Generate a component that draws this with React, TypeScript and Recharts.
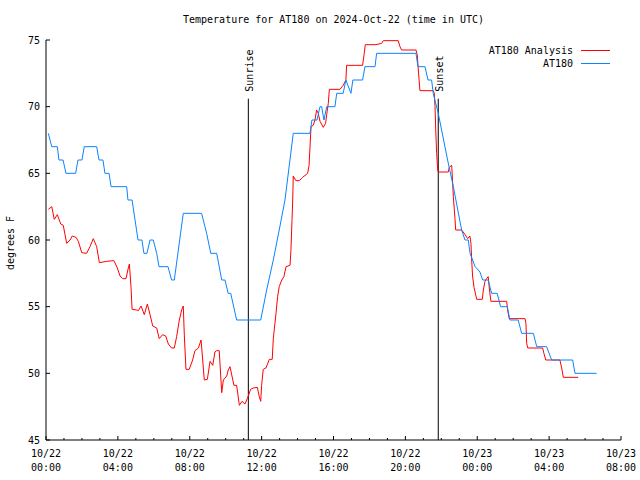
import React from 'react';
import {
    ComposedChart,
    Line,
    XAxis,
    YAxis,
    ReferenceLine,
} from "recharts";

const COLORS = {
  analysis: "#ff0000",
  station: "#0a84ff",
};

const FONT = '"DejaVu Sans Mono", monospace';

// hours since 10/22 00:00 UTC
const analysisHours = [
  0.13, 0.32, 0.46, 0.63, 0.82, 0.96, 1.15, 1.34, 1.46, 1.67, 1.80, 1.99, 2.26, 2.45, 2.63, 2.82, 2.97,
  3.38, 3.78, 3.97, 4.12, 4.27, 4.45, 4.58, 4.64, 4.73, 4.79, 5.05, 5.14, 5.29, 5.47, 5.64, 5.79, 5.94,
  6.16, 6.30, 6.49, 6.66, 6.81, 6.99, 7.14, 7.27, 7.42, 7.55, 7.64, 7.70, 7.79, 7.97, 8.16, 8.29, 8.48,
  8.63, 8.72, 8.81, 8.98, 9.13, 9.28, 9.40, 9.50, 9.64, 9.78, 9.87, 10.06, 10.14, 10.24, 10.46, 10.61,
  10.76, 10.91, 11.07, 11.20, 11.39, 11.54, 11.76, 11.87, 11.95, 12.00, 12.09, 12.24, 12.43, 12.59,
  12.65, 12.74, 12.80, 12.89, 12.98, 13.12, 13.24, 13.36, 13.58, 13.63, 13.69, 13.73, 13.76, 13.91,
  14.10, 14.28, 14.47, 14.56, 14.64, 14.69, 14.75, 14.87, 14.97, 15.06, 15.15, 15.25, 15.43, 15.56,
  15.62, 15.71, 15.77, 16.36, 16.54, 16.69, 16.73, 17.62, 17.70, 17.77, 18.36, 18.68, 18.77, 19.60,
  19.70, 19.79, 20.59, 20.66, 20.72, 20.81, 21.55, 21.61, 21.65, 21.69, 21.74, 21.80, 21.83, 22.39,
  22.44, 22.58, 22.67, 22.76, 22.80, 23.13, 23.22, 23.32, 23.47, 23.59, 23.65, 23.69, 23.74, 23.82,
  23.97, 24.28, 24.34, 24.43, 24.52, 24.61, 24.67, 24.76, 25.64, 25.69, 25.78, 26.66, 26.71, 26.75,
  26.81, 27.64, 27.71, 27.81, 28.60, 28.70, 28.79, 29.62,
];
const analysisTemps = [
  62.3, 62.5, 61.55, 61.9, 61.2, 61.1, 59.75, 60.0, 60.3, 60.2, 59.9, 59.05, 59.0, 59.5, 60.1, 59.5, 58.3,
  58.4, 58.45, 57.9, 57.3, 57.1, 57.1, 57.9, 58.2, 56.5, 54.8, 54.75, 54.7, 55.05, 54.4, 55.2, 54.4, 53.55,
  53.4, 52.6, 52.9, 52.8, 52.2, 51.9, 51.9, 52.75, 54.0, 54.75, 55.05, 52.8, 50.3, 50.3, 51.0, 51.7, 51.9,
  52.5, 51.0, 49.5, 49.55, 50.9, 50.6, 51.6, 51.7, 51.7, 48.55, 49.5, 49.8, 50.25, 50.5, 49.1, 49.1,
  47.6, 47.9, 47.7, 48.1, 48.8, 48.9, 48.95, 48.25, 47.9, 49.1, 50.3, 50.4, 51.05, 51.05,
  52.6, 53.75, 54.5, 55.75, 56.5, 57.0, 57.25, 58.0, 58.1, 59.2, 61.45, 63.0, 64.8, 64.45,
  64.45, 64.7, 64.9, 65.0, 65.6, 66.9, 68.5, 68.6, 69.0, 69.75, 69.5, 68.9, 68.45, 68.75,
  69.4, 70.25, 71.3, 71.3, 71.6, 72.0, 73.1, 73.1, 73.9, 74.65, 74.65, 74.75, 74.95, 74.95,
  74.5, 74.25, 74.25, 73.9, 72.75, 71.2, 71.2, 71.0, 70.0, 68.25, 66.5, 65.25, 65.1, 65.1,
  65.45, 65.6, 63.25, 61.6, 60.75, 60.75, 60.6, 60.4, 60.1, 60.3, 59.75, 58.5, 57.3, 56.45,
  55.55, 55.55, 56.25, 56.9, 57.1, 57.25, 56.4, 55.4, 55.4, 54.75, 54.1, 54.1, 53.75, 52.25,
  51.9, 51.9, 51.5, 51.0, 51.0, 50.4, 49.7, 49.7,
];

const stationHours = [
  0.13, 0.32, 0.63, 0.72, 0.95, 1.11, 1.65, 1.78, 2.00, 2.13, 2.82, 2.95, 3.17, 3.28, 3.51, 3.62, 4.49,
  4.56, 4.79, 5.12, 5.34, 5.45, 5.62, 5.79, 5.97, 6.16, 6.29, 6.79, 6.99, 7.14, 7.64, 8.66, 8.94, 9.17,
  9.50, 9.78, 9.96, 10.14, 10.28, 10.61, 11.95, 12.28, 12.65, 12.98, 13.30, 13.76, 14.69, 14.80, 15.08,
  15.25, 15.34, 15.47, 15.62, 16.08, 16.18, 16.54, 16.69, 16.97, 17.08, 17.62, 17.75, 18.31, 18.40,
  20.59, 20.70, 21.09, 21.26, 21.46, 21.55, 21.83, 22.35, 22.67, 23.13, 23.32, 23.50, 23.60, 23.88,
  24.15, 24.30, 24.61, 24.80, 25.11, 25.30, 25.67, 25.82, 26.28, 26.47, 27.12, 27.31, 27.86, 28.14,
  29.31, 29.44, 30.64,
];
const stationTemps = [
  68, 67, 67, 66, 66, 65, 65, 66, 66, 67, 67, 66, 66, 65, 65, 64, 64,
  63, 63, 60, 60, 59, 59, 60, 60, 59, 58, 58, 57, 57, 62, 62, 60.5, 59,
  59, 57, 57, 56, 56, 54, 54, 56.25, 58.5, 60.75, 63, 68, 68, 69, 69,
  70, 70, 69, 70, 70, 71, 71, 72, 71, 72, 72, 73, 73, 74,
  74, 73, 73, 72, 72, 71, 69.5, 66, 64, 60.75, 60, 60, 59, 58,
  57.6, 57, 57, 56, 56, 55, 55, 54, 54, 53, 53, 52, 52, 51,
  51, 50, 50,
];

const hourTicks = Array.from({ length: 33 }, (_, i) => i);
const tempTicks = [45, 50, 55, 60, 65, 70, 75];
const sunriseHour = 11.26;
const sunsetHour = 21.83;
const sunLabelTop = 70.6;

const analysisData = analysisHours.map((h, i) => ({ h, temp: analysisTemps[i] }));
const stationData = stationHours.map((h, i) => ({ h, temp: stationTemps[i] }));

function tickDate(h: number) {
    const day = 22 + Math.floor(h / 24);
    const hh = h % 24;
    return [`10/${day}`, `${String(hh).padStart(2, '0')}:00`];
}

const BottomTick = ({ x, y, payload }: any) => {
    const h = payload.value;
    const major = h % 4 === 0;
    const [d, t] = tickDate(h);
    return (
        <g>
            <line x1={x} y1={y} x2={x} y2={y - (major ? 4 : 2)} stroke="#000" />
            {major && (
                <text x={x} y={y + 17} textAnchor="middle" fontFamily={FONT} fontSize={10} fill="#000">
                    <tspan x={x}>{d}</tspan>
                    <tspan x={x} dy={14}>{t}</tspan>
                </text>
            )}
        </g>
    );
};

const TopTick = ({ x, y, payload }: any) => {
    const major = payload.value % 4 === 0;
    return <line x1={x} y1={y} x2={x} y2={y + (major ? 4 : 2)} stroke="#000" />;
};

const LeftTick = ({ x, y, payload }: any) => (
    <g>
        <line x1={x} y1={y} x2={x + 4} y2={y} stroke="#000" />
        <text x={x - 6} y={y + 3.5} textAnchor="end" fontFamily={FONT} fontSize={10} fill="#000">
            {payload.value}
        </text>
    </g>
);

const RightTick = ({ x, y }: any) => <line x1={x} y1={y} x2={x - 4} y2={y} stroke="#000" />;

const SunLabel = ({ viewBox, text }: any) => {
    const x = viewBox.x + 5;
    const y = viewBox.y - 7;
    return (
        <text x={x} y={y} transform={`rotate(-90 ${x} ${y})`} fontFamily={FONT} fontSize={10} fill="#000">
            {text}
        </text>
    );
};

export default function App() {
    return (
        <div style={{ position: 'absolute', left: 0, top: 0, width: 640, height: 480, background: '#fff', fontFamily: FONT }}>
            <div style={{ position: 'absolute', left: 0, width: 667, top: 14, textAlign: 'center', fontSize: 10 }}>
                Temperature for AT180 on 2024-Oct-22 (time in UTC)
            </div>
            <div style={{ position: 'absolute', left: 10, top: 243, fontSize: 10, transform: 'translate(-50%, -50%) rotate(-90deg)', whiteSpace: 'nowrap' }}>
                degrees F
            </div>

            <ComposedChart width={640} height={480} margin={{ top: 40, right: 19, bottom: 0, left: 0 }}>
                <XAxis xAxisId="b" dataKey="h" type="number" domain={[0, 32]} ticks={hourTicks} interval={0}
                    allowDataOverflow height={40} tickSize={0} tickMargin={0}
                    axisLine={{ stroke: '#000' }} tickLine={false} tick={<BottomTick />} />
                <XAxis xAxisId="t" orientation="top" type="number" domain={[0, 32]} ticks={hourTicks} interval={0}
                    allowDataOverflow height={0} tickSize={0} tickMargin={0}
                    axisLine={{ stroke: '#000' }} tickLine={false} tick={<TopTick />} />
                <YAxis yAxisId="l" type="number" domain={[45, 75]} ticks={tempTicks} interval={0}
                    allowDataOverflow width={46} tickSize={0} tickMargin={0}
                    axisLine={{ stroke: '#000' }} tickLine={false} tick={<LeftTick />} />
                <YAxis yAxisId="r" orientation="right" type="number" domain={[45, 75]} ticks={tempTicks} interval={0}
                    allowDataOverflow width={0} tickSize={0} tickMargin={0}
                    axisLine={{ stroke: '#000' }} tickLine={false} tick={<RightTick />} />

                <ReferenceLine xAxisId="b" yAxisId="l" stroke="#000"
                    segment={[{ x: sunriseHour, y: 45 }, { x: sunriseHour, y: sunLabelTop }]}
                    label={<SunLabel text="Sunrise" />} />
                <ReferenceLine xAxisId="b" yAxisId="l" stroke="#000"
                    segment={[{ x: sunsetHour, y: 45 }, { x: sunsetHour, y: sunLabelTop }]}
                    label={<SunLabel text="Sunset" />} />

                <Line xAxisId="b" yAxisId="l" data={analysisData} dataKey="temp" name="AT180 Analysis" type="linear"
                    stroke={COLORS.analysis} strokeWidth={1} dot={false} isAnimationActive={false} />
                <Line xAxisId="b" yAxisId="l" data={stationData} dataKey="temp" name="AT180" type="linear"
                    stroke={COLORS.station} strokeWidth={1} dot={false} isAnimationActive={false} />
            </ComposedChart>

            <div style={{ position: 'absolute', right: 30, top: 44, fontSize: 10, lineHeight: '13px' }}>
                {[['AT180 Analysis', COLORS.analysis], ['AT180', COLORS.station]].map(([name, color]) => (
                    <div key={name} style={{ display: 'flex', justifyContent: 'flex-end', alignItems: 'center' }}>
                        <span>{name}</span>
                        <span style={{ display: 'inline-block', width: 29, height: 1, background: color, marginLeft: 8 }} />
                    </div>
                ))}
            </div>
        </div>
    );
}
